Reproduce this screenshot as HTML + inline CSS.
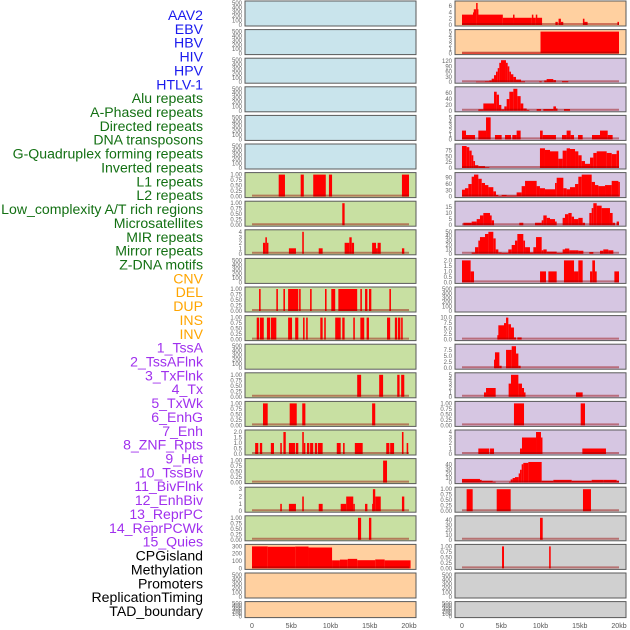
<!DOCTYPE html>
<html><head><meta charset="utf-8"><style>
html,body{margin:0;padding:0;background:#fff;}
svg{display:block;font-family:"Liberation Sans",sans-serif;}
</style></head><body>
<svg id="chart" width="630" height="630" viewBox="0 0 630 630" xmlns="http://www.w3.org/2000/svg"></svg>
<script>
// ---- labels ----
const labelNames = ["AAV2","EBV","HBV","HIV","HPV","HTLV-1","Alu repeats","A-Phased repeats","Directed repeats","DNA transposons","G-Quadruplex forming repeats","Inverted repeats","L1 repeats","L2 repeats","Low_complexity A/T rich regions","Microsatellites","MIR repeats","Mirror repeats","Z-DNA motifs","CNV","DEL","DUP","INS","INV","1_TssA","2_TssAFlnk","3_TxFlnk","4_Tx","5_TxWk","6_EnhG","7_Enh","8_ZNF_Rpts","9_Het","10_TssBiv","11_BivFlnk","12_EnhBiv","13_ReprPC","14_ReprPCWk","15_Quies","CPGisland","Methylation","Promoters","ReplicationTiming","TAD_boundary"];
const labelGroups = [6,13,5,15,5];
const groupColors = ["#1a1aee","#137013","#ffa500","#a030ee","#000000"];
const xTicks = [0,5,10,15,20];
const xTickLabels = ["0","5kb","10kb","15kb","20kb"];
const emptyTicks = [0,100,200,300,400,500];

// ---- left column series: [startKb, endKb, value] ----
const L6 = [[3.4,4.2,1],[6.2,6.6,1],[7.8,9.4,1],[9.8,10.2,1],[19.1,20,1]];
const L7 = [[11.5,11.8,1]];
const L8 = [[1.4,1.7,2],[1.7,1.9,3],[1.9,2.0,2],[4.7,5.6,1],[6.4,6.6,4],[8.5,9.0,1],[11.8,12.4,2],[12.4,12.7,3],[12.7,13.0,2],[15.3,15.8,2],[15.8,16.0,1],[16.0,16.4,2],[19.1,19.4,1]];
const L10 = [[0.9,1.1,1],[3.1,3.3,1],[4.0,4.2,1],[4.6,5.9,1],[6.0,6.2,1],[7.4,7.6,1],[9.3,9.5,1],[10.1,10.6,1],[11.0,13.4,1],[13.8,14.0,1],[14.4,14.7,1],[14.9,15.2,1],[17.5,17.7,1]];
const L11 = [[0.6,0.9,1],[1.0,1.5,1],[1.9,2.3,1],[2.4,3.1,1],[4.6,5.1,1],[5.5,5.9,1],[6.5,6.7,1],[6.9,7.1,1],[8.7,9.0,1],[9.2,9.4,1],[10.6,11.3,1],[11.5,11.8,1],[12.9,13.1,1],[13.8,14.3,1],[14.6,14.9,1],[17.2,17.6,1],[18.2,18.5,1],[18.6,18.9,1],[19.0,19.2,1]];
const L13 = [[13.4,13.9,1],[16.2,16.7,1],[18.5,18.8,1],[19.0,19.4,1]];
const L14 = [[1.4,2.0,1],[4.8,5.7,1],[6.4,6.8,1],[15.3,15.7,1]];
const L15 = [[0.4,0.8,1],[1.0,1.3,1],[2.4,2.8,1],[3.6,3.8,1],[4.0,4.3,2],[4.7,5.5,1],[5.6,5.9,1],[6.4,6.6,2],[6.6,6.8,1],[7.0,7.3,1],[7.4,7.8,1],[8.0,8.3,1],[8.4,9.0,1],[10.8,11.3,1],[11.6,11.8,1],[13.1,14.1,1],[17.1,17.5,1],[17.6,18.1,1],[19.1,19.3,2],[19.7,19.9,1]];
const L16 = [[16.7,17.2,1]];
const L17 = [[3.6,3.8,1],[4.7,5.6,1],[6.4,6.6,2],[8.5,9.0,1],[11.3,12.0,1],[12.0,12.9,2],[12.9,13.1,1],[14.4,14.7,1],[15.3,15.4,1],[15.4,15.7,3],[15.7,16.4,2],[19.1,19.4,2]];
const L18 = [[13.5,13.9,1],[14.9,15.2,1]];
const L19 = [[0,2,300],[2,5.5,295],[5.5,7.2,298],[7.2,10.2,285],[10.2,11.2,110],[11.2,12.2,120],[12.2,13.4,130],[13.4,15.7,112],[15.7,16.9,122],[16.9,20.2,110]];

// ---- right column series ----
const R0 = [[0,1.4,3.3],[1.4,1.5,4],[1.5,1.8,5],[1.8,1.9,7],[1.9,2.0,5],[2.0,5.2,3.3],[5.2,6.5,2.3],[6.5,6.6,3.3],[6.6,8.9,2.3],[8.9,9.0,3.3],[9.0,9.4,2.3],[9.4,9.5,3.3],[9.5,10.2,2.3],[11.9,12.2,1],[12.3,12.6,2],[12.6,12.9,1],[15.4,15.6,2],[15.6,16.0,1],[19.8,20,1]];
const R1 = [[0,10,0.2],[10,20,5]];
const R2 = [[1.78,2.93,3],[2.93,3.48,5],[3.48,3.78,10],[3.78,4.08,20],[4.08,4.33,40],[4.33,4.55,60],[4.55,4.75,80],[4.75,4.97,110],[4.97,5.6,125],[5.6,5.82,110],[5.82,6.03,90],[6.03,6.24,60],[6.24,6.54,45],[6.54,6.88,30],[6.88,7.52,15],[7.52,8.03,5],[9.85,10.15,5],[10.48,10.78,10],[10.78,11.63,18],[11.63,11.97,12],[12.74,13.54,6]];
const R3 = [[2.08,2.72,5],[2.72,4.08,25],[4.08,4.42,65],[4.42,4.71,55],[4.71,5.01,20],[5.01,5.39,5],[5.39,5.69,15],[5.69,6.03,40],[6.03,6.54,65],[6.54,7.05,75],[7.05,7.47,50],[7.47,7.81,25],[7.81,8.24,8],[8.24,8.58,3],[9.51,10.06,6],[10.36,11.64,6],[11.64,11.97,15],[11.97,12.14,8],[12.99,13.76,6]];
const R4 = [[0,0.51,2],[0.51,1.66,1],[2.08,3.06,2],[3.06,3.65,5],[4.2,5.05,1],[5.48,6.24,1],[6.41,6.96,1],[6.96,7.47,2],[9.94,10.28,2],[10.28,11.97,1],[12.74,13.33,1],[13.33,13.84,2],[13.84,14.27,1],[14.78,15.37,1],[16.56,17.58,1],[17.58,18.56,2],[18.56,19.19,1]];
const R5 = [[0,0.59,95],[0.59,0.93,90],[0.93,1.23,75],[1.23,1.44,55],[1.44,1.66,30],[1.66,2.08,12],[2.08,2.93,8],[2.93,3.48,3],[9.93,10.57,85],[10.57,11.21,78],[11.21,12.27,72],[12.27,12.82,40],[12.82,13.33,75],[13.33,13.76,85],[13.76,14.4,82],[14.4,14.82,72],[14.82,15.24,55],[15.24,15.67,30],[15.67,16.31,18],[16.31,16.73,45],[16.73,17.16,65],[17.16,18.43,72],[18.43,19.07,65],[19.07,19.7,60],[19.7,20,75]];
const R6 = [[0,0.38,33],[0.38,0.81,40],[0.81,1.23,60],[1.23,1.53,95],[1.53,2.08,105],[2.08,2.51,85],[2.51,2.93,65],[2.93,3.36,55],[3.36,3.99,45],[3.99,4.33,25],[4.33,4.63,8],[4.63,5.05,3],[5.05,5.69,8],[5.69,6.96,5],[6.96,7.6,20],[7.6,8.03,50],[8.03,9.51,75],[9.51,9.93,50],[9.93,10.57,40],[10.57,11.85,35],[11.85,12.06,65],[12.06,12.91,90],[12.91,13.33,40],[13.33,13.76,35],[13.76,14.4,45],[14.4,14.82,60],[14.82,15.25,95],[15.25,16.52,105],[16.52,16.94,70],[16.94,17.37,55],[17.37,18.22,50],[18.22,19.07,55],[19.07,19.92,75],[19.92,20,70]];
const R7 = [[0.17,1.23,2],[1.23,1.87,3],[1.87,2.29,5],[2.29,2.72,8],[2.72,3.57,10],[3.57,3.78,8],[3.78,4.08,4],[7.3,7.81,2],[9.3,10.15,2],[10.15,10.36,4],[10.36,10.79,8],[10.79,11.21,6],[11.21,11.85,5],[11.85,12.06,3],[12.82,13.12,6],[13.12,13.55,9],[13.55,13.97,10],[13.97,14.27,7],[14.27,14.82,5],[14.82,15.37,6],[15.37,15.67,2],[16.22,16.52,10],[16.52,16.73,14],[16.73,17.16,18],[17.16,17.79,16],[17.79,18.85,14],[18.85,19.19,10],[19.19,19.49,2],[19.7,20,3]];
const R8 = [[1.23,1.66,3],[1.66,2.08,15],[2.08,2.29,30],[2.29,2.93,38],[2.93,3.36,45],[3.36,3.99,50],[3.99,4.29,35],[4.29,4.63,10],[4.63,5.05,3],[5.05,5.9,2],[5.9,6.33,10],[6.33,6.75,20],[6.75,7.05,30],[7.05,7.81,45],[7.81,8.03,30],[8.03,8.66,15],[8.66,9.09,3],[9.09,9.43,15],[9.43,10.15,38],[10.15,10.36,8],[10.36,10.79,10],[10.79,12.06,5],[12.06,12.82,2],[12.82,13.12,10],[13.12,13.67,12],[13.67,14.4,8],[14.4,14.82,8],[14.82,15.46,7],[16.22,16.73,4],[17.58,18.0,7],[18.0,18.64,10],[18.64,19.28,8]];
const R9 = [[0,1.1,2],[1.1,1.53,1],[9.94,10.7,1],[11.0,12.06,1],[12.99,14.27,2],[14.27,14.82,1],[14.82,15.37,2],[16.31,16.6,1],[16.6,16.94,2],[16.94,17.16,1],[19.41,20,1]];
const R11 = [[4.5,4.63,2],[4.63,5.35,6.5],[5.35,5.61,7.5],[5.61,5.9,10],[5.9,6.24,7],[6.24,6.62,5.5],[6.62,6.88,1],[7.05,7.6,1]];
const R12 = [[4.08,4.2,3.5],[4.2,4.76,6.5],[4.76,5.05,1],[5.61,6.33,7.5],[6.33,6.88,9],[6.88,7.18,6],[7.18,7.47,1]];
const R13 = [[2.8,3.06,1],[3.06,4.29,2],[5.94,6.24,3],[6.24,7.18,5],[7.18,7.64,3],[7.64,7.9,2],[7.9,8.03,1],[14.52,15.37,1]];
const R14 = [[6.62,7.9,1],[15.12,15.67,1]];
const R15 = [[2.08,3.48,1],[3.57,4.08,1],[7.39,7.64,1],[7.64,9.43,3],[9.43,10.06,4],[10.06,10.15,3],[15.33,18.34,1]];
const R16 = [[0,2.29,8],[2.29,2.51,6],[2.51,3.91,4],[3.91,4.29,2],[5.99,6.2,2],[6.2,6.45,7],[6.45,6.75,10],[6.75,7.22,12],[7.22,7.39,20],[7.39,7.6,28],[7.6,7.81,40],[7.81,8.45,43],[8.45,10.15,45],[10.15,11.64,4],[11.64,13.97,6],[13.97,16.52,4],[16.52,18.0,6],[18.0,19.7,6],[19.7,20,4]];
const R17 = [[0.59,1.36,1],[4.42,6.2,1],[15.41,16.43,1]];
const R18 = [[9.94,10.28,45]];
const R19 = [[5.1,5.35,1],[11.1,11.3,1]];

const ticks1 = [0,0.25,0.5,0.75,1];
const tickLabels1 = ["0.00","0.25","0.50","0.75","1.00"];

const panels = [
 ["L",0,null],["L",1,null],["L",2,null],["L",3,null],["L",4,null],["L",5,null],
 ["L",6,L6,1,ticks1,tickLabels1],["L",7,L7,1,ticks1,tickLabels1],
 ["L",8,L8,4,[0,1,2,3,4],["0","1","2","3","4"]],["L",9,null],
 ["L",10,L10,1,ticks1,tickLabels1],["L",11,L11,1,ticks1,tickLabels1],["L",12,null],
 ["L",13,L13,1,ticks1,tickLabels1],["L",14,L14,1,ticks1,tickLabels1],
 ["L",15,L15,2,[0,0.5,1,1.5,2],["0.0","0.5","1.0","1.5","2.0"]],
 ["L",16,L16,1,ticks1,tickLabels1],["L",17,L17,3,[0,1,2,3],["0","1","2","3"]],
 ["L",18,L18,1,ticks1,tickLabels1],["L",19,L19,300,[0,100,200,300],["0","100","200","300"]],
 ["L",20,null],["L",21,null],
 ["R",0,R0,7,[0,2,4,6],["0","2","4","6"]],["R",1,R1,5,[0,1,2,3,4,5],["0","1","2","3","4","5"]],
 ["R",2,R2,125,[0,30,60,90,120],["0","30","60","90","120"]],
 ["R",3,R3,75,[0,20,40,60],["0","20","40","60"]],
 ["R",4,R4,5,[0,1,2,3,4,5],["0","1","2","3","4","5"]],
 ["R",5,R5,95,[0,25,50,75],["0","25","50","75"]],
 ["R",6,R6,105,[0,30,60,90],["0","30","60","90"]],
 ["R",7,R7,18,[0,5,10,15],["0","5","10","15"]],
 ["R",8,R8,50,[0,10,20,30,40,50],["0","10","20","30","40","50"]],
 ["R",9,R9,2,[0,0.5,1,1.5,2],["0.0","0.5","1.0","1.5","2.0"]],["R",10,null],
 ["R",11,R11,10,[0,2.5,5,7.5,10],["0.0","2.5","5.0","7.5","10.0"]],
 ["R",12,R12,9,[0,2.5,5,7.5],["0.0","2.5","5.0","7.5"]],
 ["R",13,R13,5,[0,1,2,3,4,5],["0","1","2","3","4","5"]],
 ["R",14,R14,1,ticks1,tickLabels1],["R",15,R15,4,[0,1,2,3,4],["0","1","2","3","4"]],
 ["R",16,R16,48,[0,10,20,30,40],["0","10","20","30","40"]],
 ["R",17,R17,1,ticks1,tickLabels1],["R",18,R18,45,[0,10,20,30,40],["0","10","20","30","40"]],
 ["R",19,R19,1,ticks1,tickLabels1],["R",20,null],["R",21,null]
];

const NS = "http://www.w3.org/2000/svg";
const svg = document.getElementById("chart");
function mk(tag, attrs, parent){ const e=document.createElementNS(NS,tag); for(const k in attrs) e.setAttribute(k,attrs[k]); (parent||svg).appendChild(e); return e; }

let gi=0, cnt=0;
labelNames.forEach((n,k)=>{
  while(cnt>=labelGroups[gi]){ cnt=0; gi++; }
  cnt++;
  const t = mk("text",{x:203,y:15+k*13.86+5,"text-anchor":"end","font-size":"14.1",fill:groupColors[gi]});
  
  
  t.textContent = n;
});

function bgColor(side,row){
  if(side==="L"){ if(row<6) return "#c9e4ec"; if(row<19) return "#c8e0a2"; return "#ffd0a0"; }
  if(row<2) return "#ffd0a0"; if(row<17) return "#d6c6e2"; return "#d0d0d0";
}
function rowTop(row){ return 1+row*28.6; }
function rowH(row){ return row===21?16:25; }

panels.forEach(p=>{
  const [side,row,series,ymax,ticks,tlabels] = p;
  const bx = side==="L"?245:455, bw=171;
  const top=rowTop(row), h=rowH(row);
  const x0 = side==="L"?252:462;
  const xs = kb => x0 + kb*7.85;
  const yBase = top+h-1, yTopPx = top+2;
  const ys = v => yBase - (v/(ymax||500))*(yBase-yTopPx);
  const g = mk("g",{});
  
  
  const r = mk("rect",{x:bx,y:top,width:bw,height:h,fill:bgColor(side,row),stroke:"#5a5a5a","stroke-width":1},g);
  
  
  const tv = series? ticks : emptyTicks;
  const tl = series? tlabels : emptyTicks.map(String);
  const ysT = series? ys : (v => yBase - (v/500)*(yBase-yTopPx));
  tv.forEach((v,i)=>{
    const t = mk("text",{x:bx-3,y:ysT(v)+2,"text-anchor":"end","font-size":"6",fill:"#666"},g);
    
    
    t.textContent = tl[i];
  });
  if(series){
    series.forEach(s=>{
      const b = mk("rect",{x:xs(s[0]),y:ys(s[2]),width:Math.max(1.5,xs(s[1])-xs(s[0])),height:yBase-ys(s[2]),fill:"#ff0000"},g);
      
      
    });
    const ln = mk("line",{x1:xs(0),x2:xs(20),y1:yBase-1,y2:yBase-1,stroke:"rgba(150,0,0,0.45)","stroke-width":2},g);
    
    
  }
});

["L","R"].forEach(side=>{
  const x0 = side==="L"?252:462;
  xTicks.forEach((v,i)=>{
    const t = mk("text",{x:x0+v*7.85,y:628,"text-anchor":"middle","font-size":"7",fill:"#555"});
    
    
    t.textContent = xTickLabels[i];
  });
});
</script>
</body></html>
